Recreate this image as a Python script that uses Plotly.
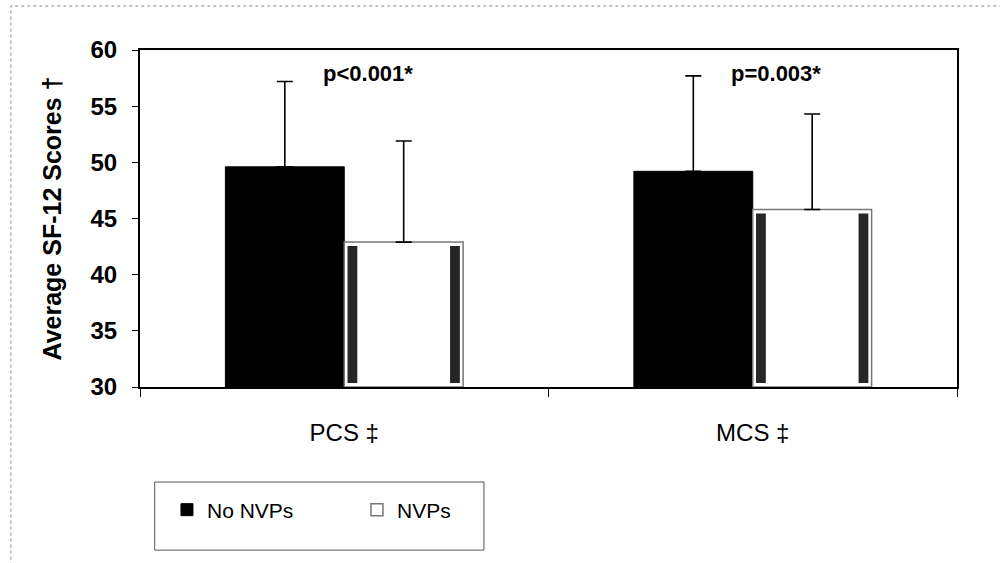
import plotly.graph_objects as go

# Average SF-12 summary scores by group (mean and upper SD whisker)
categories = ["PCS ‡", "MCS ‡"]
no_nvps_mean = [49.6, 49.2]
no_nvps_sd = [7.6, 8.5]
nvps_mean = [42.9, 45.8]
nvps_sd = [9.0, 8.5]
p_labels = ["p<0.001*", "p=0.003*"]
y_ticks = [30, 35, 40, 45, 50, 55, 60]

FONT = "Arial, Liberation Sans, sans-serif"
BAR_W = 0.291          # bar width in category units
STRIPE_W = 0.024       # dark edge bands inside the open bars
STRIPE_IN = 0.008

fig = go.Figure()

fig.add_trace(go.Bar(
    name="No NVPs", x=categories, y=[m - 30 for m in no_nvps_mean], base=30,
    width=BAR_W, offset=-BAR_W,
    marker=dict(color="black", line=dict(color="black", width=1)),
    error_y=dict(type="data", symmetric=False, array=no_nvps_sd,
                 arrayminus=[0] * len(no_nvps_sd), color="black",
                 thickness=1.6, width=8),
))

fig.add_trace(go.Bar(
    name="NVPs", x=categories, y=[m - 30 for m in nvps_mean], base=30,
    width=BAR_W, offset=0,
    marker=dict(color="white", line=dict(color="#777777", width=1.5)),
    error_y=dict(type="data", symmetric=False, array=nvps_sd,
                 arrayminus=[0] * len(nvps_sd), color="black",
                 thickness=1.6, width=8),
))

# shaded bands along the inner left/right edges of the NVPs bars
for off in (STRIPE_IN, BAR_W - STRIPE_IN - STRIPE_W):
    fig.add_trace(go.Bar(
        x=categories, y=[m - 30.7 for m in nvps_mean], base=30.35,
        width=STRIPE_W, offset=off, showlegend=False, hoverinfo="skip",
        marker=dict(color="#262626", line=dict(width=0)),
    ))

for i, txt in enumerate(p_labels):
    fig.add_annotation(x=i + 0.058, y=57.95, text=f"<b>{txt}</b>", showarrow=False,
                       font=dict(family=FONT, size=22, color="black"),
                       xanchor="center", yanchor="middle")

# outer frame and legend box
fig.add_shape(type="path", xref="paper", yref="paper",
              path="M -0.158,-0.53 L -0.158,1.1306 L 1.06,1.1306",
              line=dict(color="#8a8a8a", width=1, dash="dot"))
fig.add_shape(type="rect", xref="paper", yref="paper",
              x0=0.018, x1=0.421, y0=-0.484, y1=-0.282,
              line=dict(color="#555555", width=1), fillcolor="rgba(0,0,0,0)")

fig.update_layout(
    width=1000, height=563,
    margin=dict(l=140, r=43, t=50, b=176),
    paper_bgcolor="white", plot_bgcolor="white",
    barmode="overlay",
    showlegend=True,
    legend=dict(orientation="h", x=0.033, xanchor="left", y=-0.365, yanchor="middle",
                font=dict(family=FONT, size=21, color="black"),
                bgcolor="rgba(0,0,0,0)", borderwidth=0,
                entrywidth=145, entrywidthmode="pixels", traceorder="normal"),
    xaxis=dict(
        type="category", range=[-0.5, 1.5],
        showline=True, linecolor="black", linewidth=2, mirror=True,
        ticks="outside", tickson="boundaries", ticklen=8, tickcolor="black",
        tickfont=dict(family=FONT, size=24, color="black"),
        ticklabelstandoff=23, showgrid=False,
    ),
    yaxis=dict(
        range=[30, 60], tickvals=y_ticks,
        showline=True, linecolor="black", linewidth=2, mirror=True,
        ticks="outside", ticklen=6, tickcolor="black",
        tickfont=dict(family=FONT, size=24, color="black", weight="bold"),
        ticklabelstandoff=10,
        showgrid=False, zeroline=False,
        title=dict(text="Average SF-12 Scores †", standoff=22,
                   font=dict(family=FONT, size=25, color="black", weight="bold")),
    ),
)

fig.write_html("out.html")
